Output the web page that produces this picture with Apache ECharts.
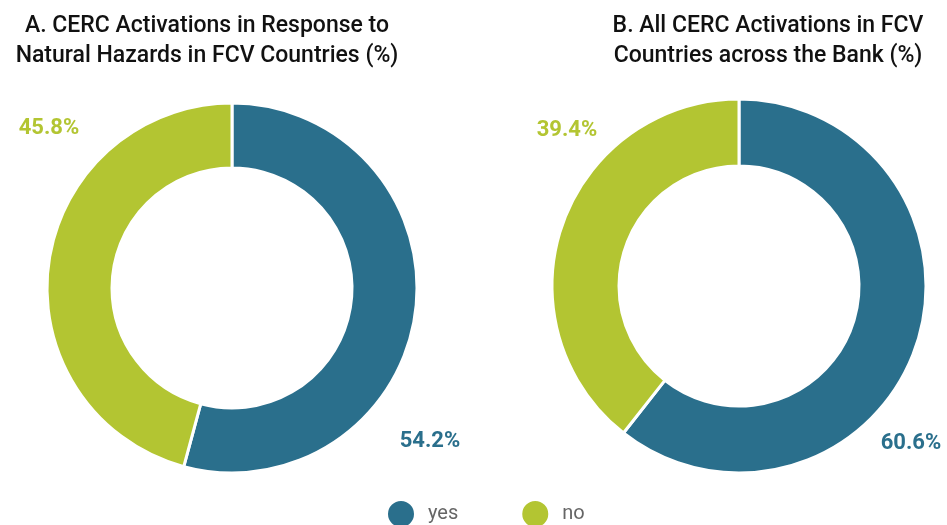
<!DOCTYPE html>
<html>
<head>
<meta charset="utf-8">
<script src="https://cdn.jsdelivr.net/npm/echarts@6/dist/echarts.min.js"></script>
<style>
  html, body { margin: 0; padding: 0; background: #fff; }
  #chart { width: 947px; height: 525px; }
</style>
</head>
<body>
<div id="chart"></div>
<script>
// Share of CERC activations, by panel
const categories = ['yes', 'no'];
const naturalHazardsFCV = [54.2, 45.8];
const allActivationsFCV = [60.6, 39.4];

const colors = ['#2a6f8c', '#b3c532'];
const labelPositions = {
  A: [[430, 441], [49, 128]],
  B: [[911, 443], [567, 130]]
};

function donut(values, center, radius, positions) {
  return {
    type: 'pie',
    center: center,
    radius: radius,
    startAngle: 90,
    clockwise: true,
    avoidLabelOverlap: false,
    itemStyle: { borderColor: '#fff', borderWidth: 3 },
    label: {
      show: true,
      position: 'outside',
      formatter: p => p.value.toFixed(1) + '%',
      fontFamily: 'Roboto',
      fontWeight: 'bold',
      fontSize: 22
    },
    labelLine: { show: false },
    labelLayout: function (params) {
      const pos = positions[params.dataIndex];
      return { x: pos[0], y: pos[1], align: 'center', verticalAlign: 'middle' };
    },
    emphasis: { disabled: true },
    data: categories.map((c, i) => ({
      name: c,
      value: values[i],
      itemStyle: { color: colors[i] },
      label: { color: colors[i] }
    }))
  };
}

const titleStyle = {
  fontFamily: 'Roboto', fontWeight: 500, fontSize: 23, lineHeight: 30,
  color: '#111', align: 'center'
};

const chart = echarts.init(document.getElementById('chart'), null, { renderer: 'canvas' });
chart.setOption({
  animation: false,
  color: colors,
  title: [
    {
      text: 'A. CERC Activations in Response to\nNatural Hazards in FCV Countries (%)',
      left: 202, top: 6, textAlign: 'center', textStyle: titleStyle
    },
    {
      text: 'B. All CERC Activations in FCV\nCountries across the Bank (%)',
      left: 763, top: 6, textAlign: 'center', textStyle: titleStyle
    }
  ],
  legend: {
    data: categories,
    top: 499,
    left: 386,
    padding: 0,
    icon: 'circle',
    itemWidth: 28,
    itemHeight: 28,
    itemGap: 62,
    textStyle: { fontFamily: 'Roboto', fontSize: 20, color: '#666', padding: [0, 0, 0, 8] }
  },
  series: [
    donut(naturalHazardsFCV, [232, 288], [120, 185], labelPositions.A),
    donut(allActivationsFCV, [739, 286], [120, 187], labelPositions.B)
  ]
});
</script>
</body>
</html>
